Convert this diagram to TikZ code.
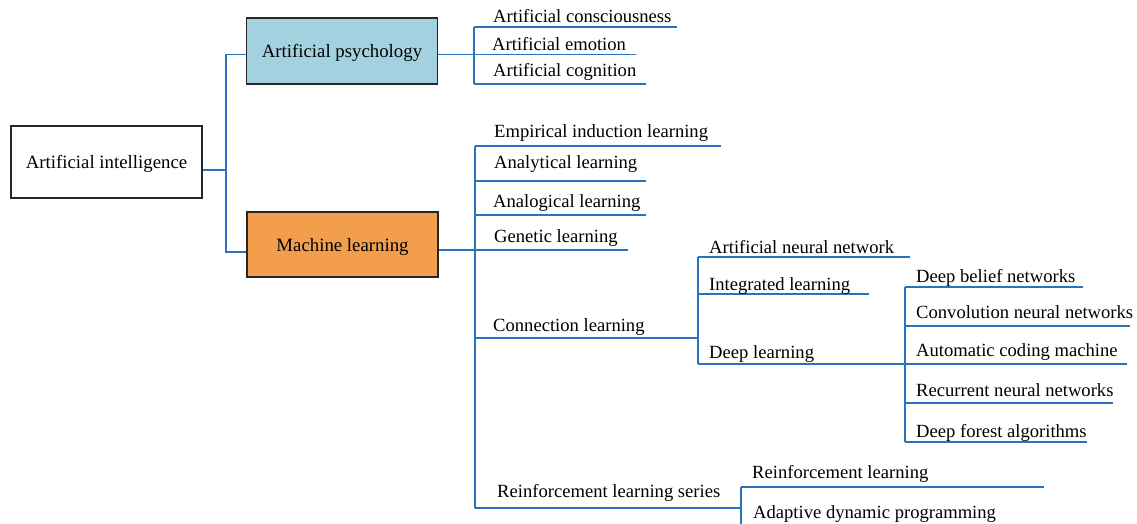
\documentclass[tikz,border=0pt]{standalone}
\usepackage{fontspec}
\setmainfont{Liberation Serif}
\definecolor{linkblue}{HTML}{2A72BC}
\definecolor{psyblue}{HTML}{A3D1E0}
\definecolor{mlorange}{HTML}{F29E4C}
\tikzset{
% boxes on the left, plain text leaves on the right
plain box/.style={rectangle,draw=black!85,line width=1.6pt,minimum width=191pt,inner sep=0pt,text depth=0pt,font=\fontsize{18.8}{22}\selectfont},
leaf/.style={anchor=base west,inner sep=0pt,font=\fontsize{18.6}{22}\selectfont},
link/.style={draw=linkblue,line width=1.7pt}
}

\begin{document}
\begin{tikzpicture}[x=1pt,y=-1pt]
\useasboundingbox (0,0) rectangle (1137,524);
% Root and the two topics
\node(ai)[plain box,minimum height=72pt] at (106.5,162) {Artificial intelligence};
\node(psy)[plain box,fill=psyblue,minimum height=66pt] at (342,51) {Artificial psychology};
\node(ml)[plain box,fill=mlorange,minimum height=65pt] at (342.5,244.5) {Machine learning};
\coordinate (j0) at (226,170);
\draw[link] ([yshift=-8pt]ai.east) -- (j0);
\draw[link] ([yshift=-3.5pt]psy.west) -| (j0) |- ([yshift=-7.5pt]ml.west);
% Leaves: name/branch x/line y/end x/text x/baseline/text
\foreach \n/\x/\y/\e/\tx/\ty/\t in {
pa/474/27/677/493/23/Artificial consciousness,
pb/474/54.5/636/492/51/Artificial emotion,
pc/474/84/646/493/77/Artificial cognition,
ma/475/146/721/494/137/Empirical induction learning,
mb/475/181/646/494/168/Analytical learning,
mc/475/215/646/493/207/Analogical learning,
md/475/250/628/494/242/Genetic learning,
me/475/338/698/493/331/Connection learning,
mf/475/508/741/497/497/Reinforcement learning series,
ca/698/257/910/709/253/Artificial neural network,
cb/698/294/869/709/290/Integrated learning,
cc/698/364/905/709/358/Deep learning,
da/905/287/1083/916/282/Deep belief networks,
db/905/326/1130/916/318/Convolution neural networks,
dc/905/364/1127/916/356/Automatic coding machine,
dd/905/403/1113/916/396/Recurrent neural networks,
de/905/442/1087/916/437/Deep forest algorithms,
ra/741/487/1044/752/478/Reinforcement learning}{
\coordinate (\n-a) at (\x,\y);
\coordinate (\n-b) at (\e,\y);
\draw[link] (\n-a) -- (\n-b);
\node(\n)[leaf] at (\tx,\ty) {\t};
}
\node(rb)[leaf] at (753,518) {Adaptive dynamic programming};
\coordinate (rb-a) at (741,524);
% Branch points
\draw[link] ([yshift=-3.5pt]psy.east) -- (pb-a);
\draw[link] (pa-a) -- (pc-a);
\draw[link] ([yshift=-5.5pt]ml.east) -- (md-a);
\draw[link] (ma-a) -- (mf-a);
\draw[link] (ca-a) -- (cc-a);
\draw[link] (da-a) -- (de-a);
\draw[link] (ra-a) -- (rb-a);
\end{tikzpicture}
\end{document}
